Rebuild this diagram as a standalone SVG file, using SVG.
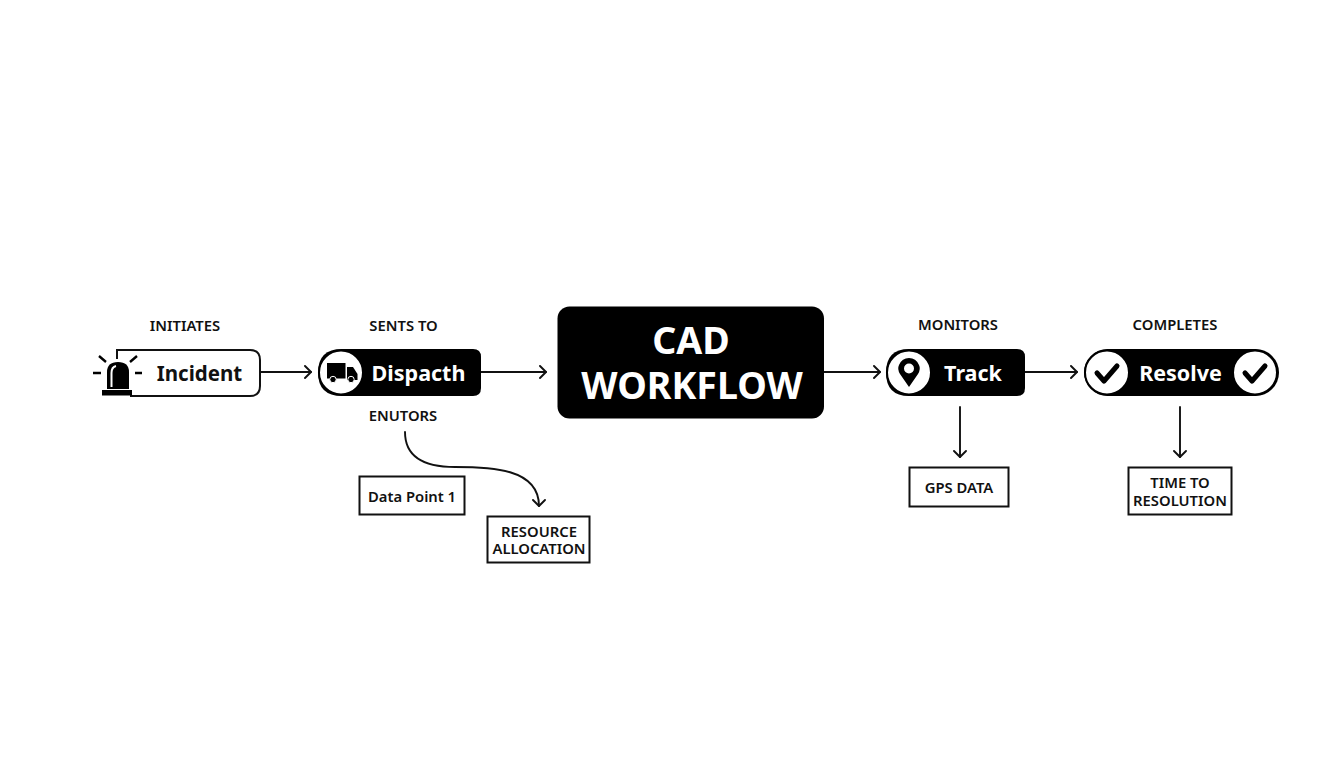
<svg xmlns="http://www.w3.org/2000/svg" width="1344" height="768" viewBox="0 0 1344 768">
<style>
text{font-family:"Noto Sans","Open Sans","Liberation Sans",sans-serif;font-weight:600;text-anchor:middle;fill:#111}
.lab{font-size:14.8px}
.box{font-size:14.8px}
.nm{font-size:21.5px;font-weight:700}
.big{font-size:37.5px;font-weight:700;fill:#fff}
.on{fill:#fff}
.blk{fill:#000}
.frame{fill:#fff;stroke:#111;stroke-width:2}
.ln{fill:none;stroke:#111;stroke-width:1.9;stroke-linecap:round;stroke-linejoin:round}
.ic{fill:none;stroke:#000;stroke-width:5;stroke-linecap:round;stroke-linejoin:round}
.c{fill:#fff;stroke:#000;stroke-width:2}
</style>
<defs><marker id="a" markerWidth="16" markerHeight="16" refX="11" refY="7" orient="auto" markerUnits="userSpaceOnUse"><path d="M5 1L11 7L5 13" fill="none" stroke="#111" stroke-width="1.9" stroke-linecap="round" stroke-linejoin="round"/></marker></defs>
<rect width="1344" height="768" fill="#fff"/>
<g id="connectors">
<path class="ln" marker-end="url(#a)" d="M260 372H311"/>
<path class="ln" marker-end="url(#a)" d="M481 372H546"/>
<path class="ln" marker-end="url(#a)" d="M824 372H880"/>
<path class="ln" marker-end="url(#a)" d="M1025 372H1077"/>
<path class="ln" marker-end="url(#a)" d="M405 432C405 457 425 467 455 467C490 467 539 468 539 506"/>
<path class="ln" marker-end="url(#a)" d="M960 407V457"/>
<path class="ln" marker-end="url(#a)" d="M1180 407V457"/>
</g>
<g id="incident">
<text class="lab" x="185" y="330.500">INITIATES</text>
<path d="M117 359V350H250Q260 350 260 360V386Q260 396 250 396H130" fill="none" stroke="#111" stroke-width="2"/>
<text x="199.500" y="381" class="nm" style="font-size:20.5px">Incident</text>
<path class="blk" d="M107 389V372Q107 362 118 362Q129 362 129 372V389Z"/>
<path d="M111.500 387V373Q111.500 367 116 366" fill="none" stroke="#fff" stroke-width="2"/>
<rect class="blk" x="102" y="390" width="30" height="5.500"/>
<path d="M93 373H101M135 373H142M99 356L106 362M137 356L130 362" fill="none" stroke="#000" stroke-width="2.400"/>
</g>
<g id="dispatch">
<text class="lab" x="403.500" y="330.500">SENTS TO</text>
<path class="blk" d="M342 349H473Q481 349 481 357V388Q481 396 473 396H342Q318 396 318 372.500Q318 349 342 349Z"/>
<circle class="c" cx="341" cy="372.500" r="22"/>
<rect class="blk" x="327" y="363" width="18.500" height="15.500"/>
<path class="blk" d="M347 367H353L357.500 374V380H347Z"/>
<circle cx="333" cy="379.500" r="3.200" fill="#000" stroke="#fff"/>
<circle cx="351" cy="379.500" r="3.200" fill="#000" stroke="#fff"/>
<text x="418.500" y="381" class="nm on">Dispacth</text>
<text class="lab" x="403" y="421">ENUTORS</text>
</g>
<g id="cad">
<rect class="blk" x="557.500" y="306.500" width="266.500" height="112" rx="12"/>
<text x="691" y="354" class="big">CAD</text>
<text x="692" y="399" class="big">WORKFLOW</text>
</g>
<g id="track">
<text class="lab" x="958" y="329.500">MONITORS</text>
<path class="blk" d="M909 349H1017Q1025 349 1025 357V388Q1025 396 1017 396H909Q886 396 886 372.500Q886 349 909 349Z"/>
<circle class="c" cx="909" cy="372.500" r="22"/>
<path class="blk" fill-rule="evenodd" d="M909 387L900 374Q897 369 899 365Q902 358 909 358Q916 358 919 365Q921 369 918 374ZM909 363.500A5 5 0 1 0 909 373.500A5 5 0 1 0 909 363.500Z"/>
<text x="973" y="381" class="nm on">Track</text>
</g>
<g id="resolve">
<text class="lab" x="1175" y="329.500">COMPLETES</text>
<rect class="blk" x="1084" y="349" width="195" height="47" rx="23.500"/>
<circle class="c" cx="1107" cy="372.500" r="22"/>
<circle class="c" cx="1255" cy="372.500" r="22"/>
<path class="ic" d="M1097 373L1104 381L1117 366"/>
<path class="ic" d="M1245 373L1252 381L1265 366"/>
<text x="1180.500" y="381" class="nm on">Resolve</text>
</g>
<g id="data-point-1"><rect class="frame" x="359.500" y="476.500" width="105" height="38"/><text class="box" x="412" y="502">Data Point 1</text></g>
<g id="resource-allocation"><rect class="frame" x="487.500" y="516.500" width="102" height="46"/><text class="box" x="539" y="537">RESOURCE</text><text class="box" x="539" y="554">ALLOCATION</text></g>
<g id="gps-data"><rect class="frame" x="909.500" y="467.500" width="99" height="39"/><text class="box" x="959" y="492.500">GPS DATA</text></g>
<g id="time-to-resolution"><rect class="frame" x="1128.500" y="467.500" width="103" height="47"/><text class="box" x="1180" y="488">TIME TO</text><text class="box" x="1180" y="506">RESOLUTION</text></g>
</svg>
